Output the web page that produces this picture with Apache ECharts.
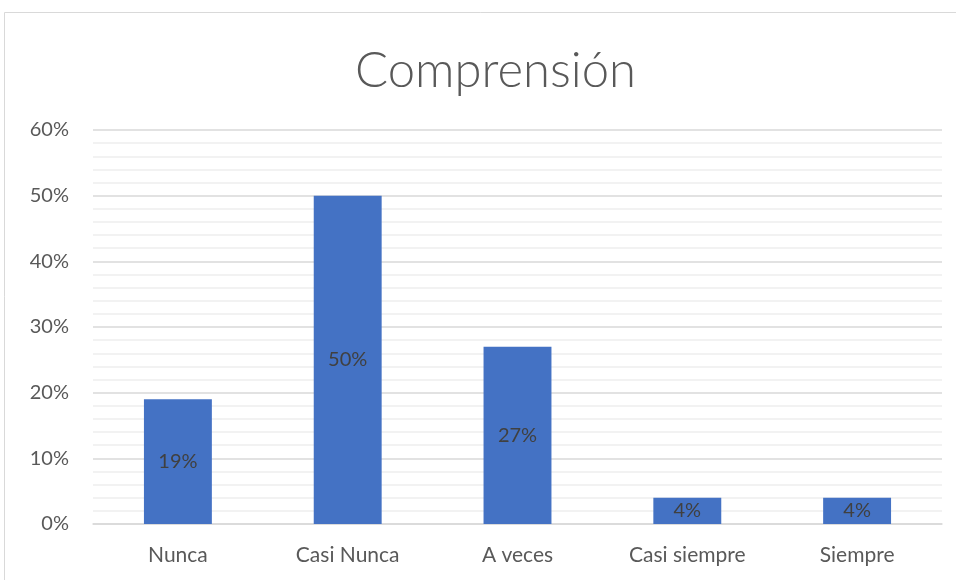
<!DOCTYPE html>
<html>
<head>
<meta charset="utf-8">
<script src="https://cdn.jsdelivr.net/npm/echarts@6/dist/echarts.min.js"></script>
<style>
  html, body { margin: 0; padding: 0; background: #fff; }
  #chart { width: 956px; height: 580px; }
</style>
</head>
<body>
<div id="chart"></div>
<script>
// Response categories and their share (%)
const categories = ['Nunca', 'Casi Nunca', 'A veces', 'Casi siempre', 'Siempre'];
const shares = [19, 50, 27, 4, 4];
const yTicks = [0, 10, 20, 30, 40, 50, 60];

const FONT = 'Lato, "Open Sans", sans-serif';
const chart = echarts.init(document.getElementById('chart'), null, { renderer: 'canvas' });

chart.setOption({
  backgroundColor: '#ffffff',
  animation: false,
  textStyle: { fontFamily: FONT },
  title: {
    text: 'Comprensión',
    left: 350,
    top: 42,
    textStyle: { fontFamily: FONT, fontSize: 49, fontWeight: 300, color: '#595959' }
  },
  graphic: [{
    type: 'rect',
    shape: { x: 4.5, y: 12.5, width: 960, height: 600 },
    style: { fill: 'none', stroke: '#d9d9d9', lineWidth: 1 },
    silent: true
  }],
  grid: { left: 93, right: 14, top: 130, bottom: 56 },
  xAxis: {
    type: 'category',
    data: categories,
    axisTick: { show: false },
    axisLine: { lineStyle: { color: '#d9d9d9', width: 1.5 } },
    axisLabel: { color: '#595959', fontSize: 21, margin: 21, fontFamily: FONT }
  },
  yAxis: {
    type: 'value',
    min: yTicks[0],
    max: yTicks[yTicks.length - 1],
    interval: 10,
    axisLine: { show: false },
    axisTick: { show: false },
    axisLabel: { color: '#595959', fontSize: 20, margin: 24, fontFamily: FONT, formatter: '{value}%' },
    splitLine: { lineStyle: { color: '#d9d9d9', width: 1.5 } },
    minorTick: { show: false, splitNumber: 5 },
    minorSplitLine: { show: true, lineStyle: { color: '#eeeeee', width: 1.5 } }
  },
  series: [{
    type: 'bar',
    data: shares,
    barWidth: '40%',
    itemStyle: { color: '#4472c4' },
    label: {
      show: true,
      position: 'inside',
      formatter: '{c}%',
      color: '#404040',
      fontSize: 20,
      fontFamily: FONT
    }
  }]
});
</script>
</body>
</html>
